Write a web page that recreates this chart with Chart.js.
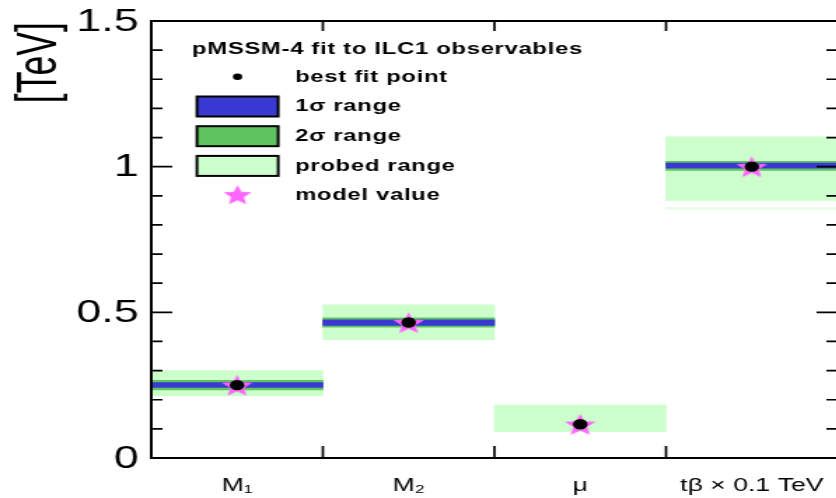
<!DOCTYPE html>
<html>
<head>
<meta charset="utf-8">
<script src="https://cdn.jsdelivr.net/npm/chart.js@4.4.0/dist/chart.umd.min.js"></script>
<style>
  html, body { margin: 0; padding: 0; background: #fff; overflow: hidden; }
  #plot { display: block; }
</style>
</head>
<body>
<!-- the plot is drawn narrow and shown widened, like the original figure -->
<canvas id="plot" width="604" height="498" style="width:845.6px;height:498px"></canvas>
<script>
// parameters on the x axis
const categories = ['M\u2081', 'M\u2082', '\u03bc', 't\u03b2 \u00d7 0.1 TeV'];
// best fit point and input model value [TeV]
const bestFit = [0.25, 0.465, 0.116, 1.0];
const modelValue = [0.25, 0.465, 0.116, 1.0];
// fit ranges, low and high edge [TeV]
const sigma1Low = [0.242, 0.455, null, 0.995];
const sigma1High = [0.259, 0.474, null, 1.012];
const sigma2Low = [0.234, 0.449, null, 0.987];
const sigma2High = [0.267, 0.481, null, 1.018];
const probedLow = [0.213, 0.405, 0.090, 0.884];
const probedHigh = [0.300, 0.526, 0.182, 1.102];
// a few isolated scan points below the tan beta band
const probedTailLow = [null, null, null, 0.853];
const probedTailHigh = [null, null, null, 0.860];
// y axis
const yTicks = [0, 0.5, 1, 1.5];
const yTickLabels = ['0', '0.5', '1', '1.5'];
const yMinorStep = 0.1;

const legendTitle = 'pMSSM-4 fit to ILC1 observables';
const legendOrder = ['best fit point', '1\u03c3 range', '2\u03c3 range', 'probed range', 'model value'];

const FONT = "'Liberation Sans', Arial, Helvetica, sans-serif";
Chart.defaults.font.family = FONT;
Chart.defaults.color = '#000';

const pairs = (lo, hi) => lo.map((v, i) => (v === null ? null : [v, hi[i]]));

// filled five point star used as marker
function starImage(r, color) {
  const c = document.createElement('canvas');
  c.width = c.height = Math.ceil(r * 2 + 2);
  const g = c.getContext('2d');
  const cx = c.width / 2, cy = c.height / 2 + r * 0.1;
  g.beginPath();
  for (let i = 0; i < 10; i++) {
    const rad = i % 2 ? r * 0.45 : r;
    const a = -Math.PI / 2 + i * Math.PI / 5;
    g.lineTo(cx + rad * Math.cos(a), cy + rad * Math.sin(a));
  }
  g.closePath();
  g.fillStyle = color;
  g.fill();
  return c;
}
const starPlot = starImage(11.5, '#ff66ff');
const starLegend = starImage(10.5, '#ff66ff');

const framePlugin = {
  id: 'frame',
  afterDatasetsDraw(chart) {
    const { ctx, chartArea: a, scales: { x, y } } = chart;
    ctx.save();
    ctx.strokeStyle = '#000';
    ctx.lineWidth = 2;
    ctx.strokeRect(a.left, a.top, a.right - a.left, a.bottom - a.top);

    // ticks point into the frame
    ctx.lineWidth = 1.7;
    ctx.beginPath();
    const nMinor = Math.round((y.max - y.min) / yMinorStep);
    for (let k = 0; k <= nMinor; k++) {
      const v = y.min + k * yMinorStep;
      const py = y.getPixelForValue(v);
      const major = yTicks.some(t => Math.abs(t - v) < 1e-6);
      const len = major ? 15 : 8;
      ctx.moveTo(a.left, py); ctx.lineTo(a.left + len, py);
      ctx.moveTo(a.right, py); ctx.lineTo(a.right - len, py);
    }
    for (let i = 1; i < categories.length; i++) {
      const px = (x.getPixelForValue(i - 1) + x.getPixelForValue(i)) / 2;
      ctx.moveTo(px, a.bottom); ctx.lineTo(px, a.bottom - 12);
      ctx.moveTo(px, a.top); ctx.lineTo(px, a.top + 10);
    }
    ctx.stroke();

    // y tick labels, right aligned against the frame
    ctx.fillStyle = '#000';
    ctx.font = '32px ' + FONT;
    ctx.textAlign = 'right';
    ctx.textBaseline = 'middle';
    yTicks.forEach((v, i) => ctx.fillText(yTickLabels[i], a.left - 9, y.getPixelForValue(v) + 1));
    ctx.restore();
  },
  afterDraw(chart) {
    const ctx = chart.ctx;
    ctx.save();

    // y axis title
    ctx.translate(40.2, 22);
    ctx.rotate(-Math.PI / 2);
    ctx.scale(0.89, 1);
    ctx.font = '40px ' + FONT;
    ctx.fillStyle = '#000';
    ctx.textAlign = 'right';
    ctx.textBaseline = 'alphabetic';
    ctx.fillText('[TeV]', 0, 0);
    ctx.restore();

    // legend box in the upper left corner
    ctx.save();
    ctx.fillStyle = '#000';
    ctx.textAlign = 'left';
    ctx.textBaseline = 'alphabetic';
    ctx.font = 'bold 17px ' + FONT;
    if ('letterSpacing' in ctx) ctx.letterSpacing = '0.5px';
    ctx.fillText(legendTitle, 137.1, 54);

    const symX = 169.6, textX = 210.7;
    legendOrder.forEach((label, i) => {
      const ds = chart.data.datasets.find(d => d.label === label);
      const base = 81.5 + i * 29.7;
      const cy = base - 4.7;
      if (ds.type === 'line' && typeof ds.pointStyle === 'object') {
        ctx.drawImage(starLegend, symX - starLegend.width / 2, cy - starLegend.height / 2 - 1);
      } else if (ds.type === 'line') {
        ctx.beginPath();
        ctx.arc(symX, cy, 3.3, 0, Math.PI * 2);
        ctx.fillStyle = ds.backgroundColor;
        ctx.fill();
      } else {
        ctx.fillStyle = ds.backgroundColor;
        ctx.fillRect(symX - 29, cy - 10, 58, 20);
        ctx.lineWidth = 2;
        ctx.strokeStyle = '#000';
        ctx.strokeRect(symX - 29, cy - 10, 58, 20);
      }
      ctx.fillStyle = '#000';
      ctx.fillText(label, textX, base);
    });
    ctx.restore();
  }
};

new Chart(document.getElementById('plot'), {
  type: 'bar',
  data: {
    labels: categories,
    datasets: [
      {
        type: 'line', label: 'best fit point', data: bestFit, showLine: false,
        backgroundColor: '#000', borderColor: '#000',
        pointRadius: 5.2, pointBorderWidth: 0, order: 0
      },
      {
        type: 'line', label: 'model value', data: modelValue, showLine: false,
        pointStyle: starPlot, pointRadius: 5, backgroundColor: '#ff66ff', order: 1
      },
      { label: '1\u03c3 range', data: pairs(sigma1Low, sigma1High), backgroundColor: '#3a3ad2', order: 2 },
      { label: '2\u03c3 range', data: pairs(sigma2Low, sigma2High), backgroundColor: '#5fc45f', order: 3 },
      { label: 'probed range', data: pairs(probedLow, probedHigh), backgroundColor: '#ccffcc', order: 4 },
      { label: 'probed tail', data: pairs(probedTailLow, probedTailHigh), backgroundColor: '#e6ffe6', order: 5 }
    ]
  },
  options: {
    responsive: false,
    devicePixelRatio: 1,
    animation: false,
    layout: { padding: { top: 21, right: 3, left: 0, bottom: 0 } },
    datasets: {
      bar: { grouped: false, barPercentage: 1, categoryPercentage: 1, borderWidth: 0 }
    },
    plugins: { legend: { display: false }, tooltip: { enabled: false } },
    scales: {
      x: {
        grid: { display: false },
        border: { display: false },
        ticks: { font: { size: 19 }, padding: 8, maxRotation: 0, autoSkip: false },
        afterFit: s => { s.height = 40; }
      },
      y: {
        min: 0,
        max: 1.5,
        afterBuildTicks: s => { s.ticks = yTicks.map(v => ({ value: v })); },
        ticks: { display: false },
        grid: { display: false },
        border: { display: false },
        afterFit: s => { s.width = 108; }
      }
    }
  },
  plugins: [framePlugin]
});
</script>
</body>
</html>
